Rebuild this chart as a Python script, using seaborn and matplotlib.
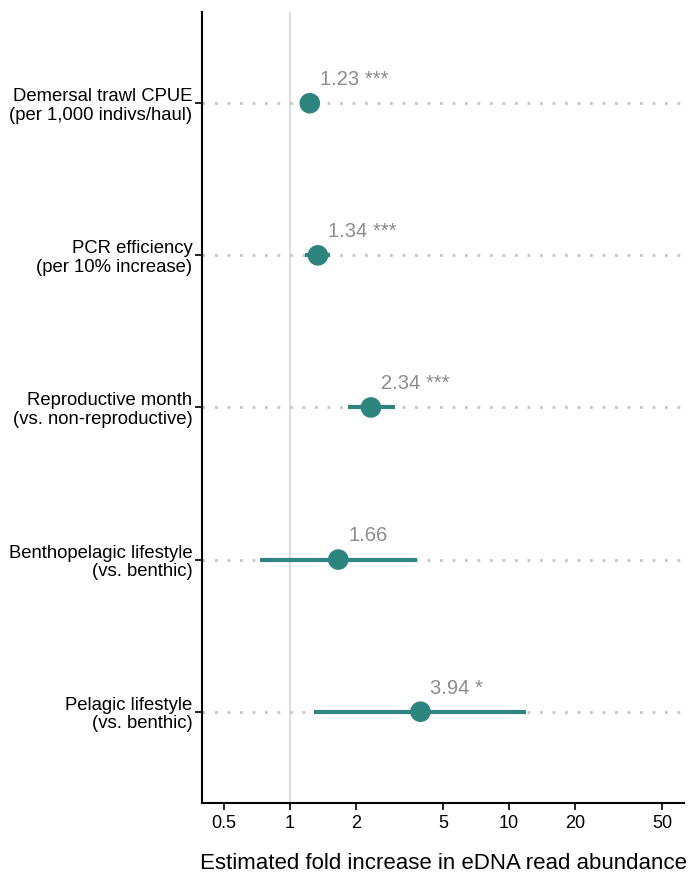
import matplotlib
matplotlib.use("Agg")
import matplotlib.pyplot as plt
import seaborn as sns
import pandas as pd
import numpy as np

# Model effects on eDNA read abundance (fold change with 95% CI)
predictors = [
    "Demersal trawl CPUE\n(per 1,000 indivs/haul)",
    "PCR efficiency\n(per 10% increase)",
    "Reproductive month\n(vs. non-reproductive)",
    "Benthopelagic lifestyle\n(vs. benthic)",
    "Pelagic lifestyle\n(vs. benthic)",
]
estimates = [1.23, 1.34, 2.34, 1.66, 3.94]
ci_low = [1.16, 1.17, 1.83, 0.73, 1.29]
ci_high = [1.31, 1.52, 3.02, 3.81, 12.0]
signif = ["***", "***", "***", "", "*"]
x_ticks = [0.5, 1, 2, 5, 10, 20, 50]
x_tick_labels = ["0.5", "1", "2", "5", "10", "20", "50"]

df = pd.DataFrame({
    "predictor": predictors,
    "estimate": estimates,
    "low": ci_low,
    "high": ci_high,
    "sig": signif,
})
df["pos"] = np.arange(len(df))

sns.set_theme(style="white")
plt.rcParams["font.family"] = ["Liberation Sans", "DejaVu Sans"]

teal = "#2e8580"

fig = plt.figure(figsize=(6.9, 8.73), dpi=100)
ax = fig.add_axes([0.2928, 0.0802, 0.6985, 0.9061])
ax.set_xscale("log")
ax.set_xlim(0.396, 63)
ax.set_ylim(4.6, -0.6)

# reference line at no change
ax.axvline(1, color="#dedede", lw=1.5, zorder=0)

# dotted guides for each predictor row
for p in df["pos"]:
    ax.axhline(p, color="#c4c4c4", lw=2, linestyle=(0, (1, 3.5)), zorder=0.5)

# confidence intervals
ax.hlines(df["pos"], df["low"], df["high"], color=teal, lw=3, zorder=2)

sns.scatterplot(data=df, x="estimate", y="pos", ax=ax, color=teal,
                s=220, edgecolor="none", zorder=3, legend=False)

for _, r in df.iterrows():
    label = f"{r['estimate']:.2f}" + (f" {r['sig']}" if r["sig"] else "")
    ax.annotate(label, (r["estimate"], r["pos"]), xytext=(7, 17),
                textcoords="offset points", ha="left", va="center",
                color="#8c8c8c", fontsize=14.5)

ax.set_yticks(df["pos"])
ax.set_yticklabels(df["predictor"], fontsize=13.3, color="black", ha="right")
for t in ax.get_yticklabels():
    t.set_linespacing(1.1)
ax.set_xticks(x_ticks)
ax.set_xticklabels(x_tick_labels, fontsize=13, color="black")
ax.minorticks_off()
ax.xaxis.set_minor_locator(matplotlib.ticker.NullLocator())

ax.set_xlabel("Estimated fold increase in eDNA read abundance",
              fontsize=16, color="black", labelpad=15)
ax.set_ylabel("")

for s in ["top", "right"]:
    ax.spines[s].set_visible(False)
for s in ["left", "bottom"]:
    ax.spines[s].set_color("black")
    ax.spines[s].set_linewidth(1.5)
ax.tick_params(axis="both", which="major", length=5, width=1.2,
               color="black", direction="out", left=True, bottom=True, pad=4)
ax.tick_params(axis="y", pad=2)
ax.grid(False)

fig.savefig("out.png", dpi=100)
